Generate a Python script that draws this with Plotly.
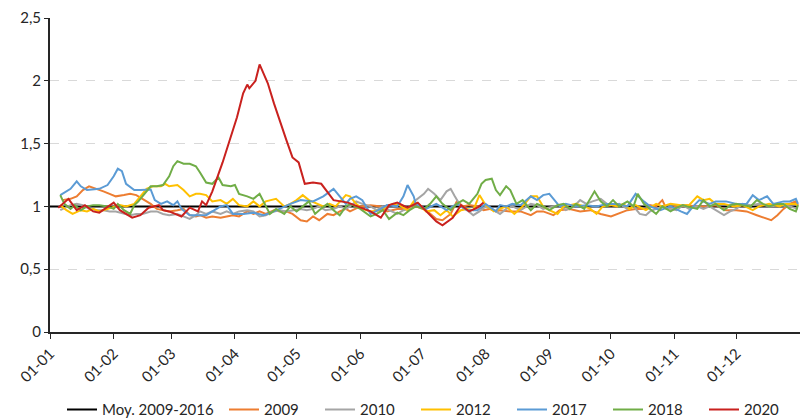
import pandas as pd
import plotly.graph_objects as go

# Day-of-year (0 = 1 Jan) and index values
moy_days = [0, 364]
moy_vals = [1.0, 1.0]

d2009 = [6, 10, 13, 16, 19, 23, 26, 29, 32, 36, 39, 42, 45, 49, 52, 55, 58, 62, 65, 68, 71,
         73, 76, 79, 83, 86, 89, 92, 96, 99, 102, 105, 109, 112, 115, 118, 122, 125, 128, 131, 135, 138, 141, 144,
         146, 151, 156, 161, 164, 169, 174, 178, 183, 188, 191, 195, 198, 201, 204, 208, 211, 214, 217,
         219, 224, 229, 234, 237, 240, 245, 248, 253, 258, 263, 268, 273, 276, 281, 285, 290,
         292, 295, 298, 300, 305, 310, 315, 320, 324, 329, 334, 339, 344, 349, 351, 354, 357, 360, 363, 364]
v2009 = [1.05, 1.06, 1.08, 1.13, 1.16, 1.14, 1.12, 1.10, 1.08, 1.09, 1.10, 1.09, 1.06, 1.02, 0.98, 0.97, 0.96, 0.97, 0.98, 0.93, 0.92,
         0.93, 0.91, 0.92, 0.91, 0.92, 0.93, 0.92, 0.96, 0.94, 0.96, 0.94, 0.97, 0.96, 0.96, 0.94, 0.89, 0.88, 0.92, 0.89, 0.94, 0.93, 0.96, 0.98,
         0.96, 1.00, 1.01, 1.00, 0.96, 0.98, 0.98, 1.00, 0.97, 0.90, 0.89, 0.94, 1.04, 1.00, 1.01, 1.00, 0.97, 0.98, 0.96,
         0.97, 0.96, 0.96, 0.93, 0.96, 0.96, 0.93, 0.97, 0.98, 0.96, 0.97, 0.94, 0.92, 0.94, 0.97, 0.98, 0.98,
         1.01, 1.00, 1.05, 0.98, 1.00, 1.01, 1.00, 1.00, 1.01, 0.97, 0.97, 0.96, 0.93, 0.90, 0.89, 0.93, 0.98, 1.02, 1.04, 1.01]

d2010 = [5, 10, 13, 16, 19, 23, 26, 29, 32, 36, 39, 42, 45, 49, 52, 55, 58, 62, 65, 68, 71,
         73, 76, 79, 83, 86, 89, 92, 96, 99, 102, 105, 109, 112, 115, 118, 122, 125, 128, 131, 134, 138, 141, 144,
         146, 149, 152, 156, 159, 162, 165, 169, 172, 175, 178, 182, 184, 187, 190, 193, 195, 197, 200, 203, 206, 209, 212, 216,
         219, 222, 225, 229, 234, 237, 240, 245, 248, 251, 255, 258, 261, 264, 268, 271, 274, 277, 281, 284, 287, 290,
         292, 295, 298, 302, 305, 308, 311, 315, 318, 321, 324, 328, 331, 334, 337, 341, 345, 350, 355, 360, 364]
v2010 = [0.97, 1.01, 1.02, 1.01, 0.98, 0.97, 0.97, 0.96, 0.96, 0.94, 0.93, 0.94, 0.94, 0.96, 0.96, 0.94, 0.93, 0.94, 0.92, 0.90, 0.93,
         0.96, 0.94, 0.96, 0.94, 0.96, 0.94, 0.96, 0.97, 0.96, 0.92, 0.93, 0.96, 0.97, 0.96, 0.97, 0.98, 0.97, 0.98, 1.00, 0.97, 0.98, 1.00, 0.98,
         1.00, 1.04, 1.02, 1.00, 0.97, 1.00, 0.97, 0.94, 0.97, 0.98, 1.05, 1.10, 1.14, 1.10, 1.05, 1.12, 1.14, 1.08, 1.00, 0.97, 0.93, 0.96, 1.00, 0.97,
         0.94, 0.98, 1.00, 0.97, 1.02, 1.01, 0.98, 1.00, 1.01, 0.97, 1.00, 1.05, 1.02, 1.04, 1.06, 1.02, 1.01, 1.02, 0.98, 1.00, 0.94, 0.93,
         0.96, 0.98, 1.00, 0.98, 0.97, 1.01, 0.98, 1.00, 0.98, 1.00, 0.97, 0.93, 0.96, 0.98, 1.02, 1.01, 1.02, 1.00, 1.01, 1.00, 0.98]

d2012 = [5, 8, 11, 15, 18, 21, 24, 28, 31, 34, 37, 41, 44, 47, 50, 54, 56, 58, 62, 65, 68, 71, 73,
         76, 79, 83, 86, 89, 92, 96, 99, 102, 105, 110, 114, 117, 120, 123, 126, 130, 133, 136, 139, 144,
         146, 149, 152, 156, 161, 164, 167, 170, 174, 177, 180, 183, 187, 190, 193, 196, 200, 203, 206, 209, 212, 216, 219,
         222, 226, 230, 234, 237, 240, 243, 247, 250, 253, 256, 260, 263, 266, 269, 273, 276, 279, 282, 285, 290,
         295, 298, 302, 307, 311, 315, 318, 321, 324, 328, 333, 337, 342, 345, 350, 355, 358, 363, 364]
v2012 = [1.01, 0.97, 0.94, 0.97, 0.96, 0.98, 0.96, 0.98, 1.00, 1.01, 1.00, 1.02, 1.08, 1.14, 1.16, 1.16, 1.18, 1.16, 1.17, 1.13, 1.08, 1.10, 1.10,
         1.09, 1.04, 1.05, 1.02, 1.06, 1.01, 1.00, 1.04, 1.00, 1.04, 1.06, 1.00, 1.02, 1.05, 1.09, 1.05, 1.02, 1.00, 1.02, 1.00, 1.09,
         1.08, 1.02, 0.98, 0.96, 0.97, 1.00, 1.02, 1.01, 0.97, 1.04, 1.01, 0.96, 0.97, 0.93, 0.97, 0.92, 0.97, 0.98, 0.97, 1.09, 1.01, 0.96, 0.98,
         1.00, 0.94, 1.00, 1.08, 1.08, 1.00, 0.97, 0.94, 1.00, 1.01, 1.02, 1.00, 0.98, 0.94, 1.00, 1.01, 1.00, 1.02, 0.98, 1.01, 0.97,
         1.02, 1.00, 1.02, 1.01, 1.01, 1.08, 1.05, 1.06, 1.02, 1.02, 1.00, 1.01, 0.97, 1.00, 1.02, 1.00, 1.02, 1.02, 1.00]

d2017 = [5, 10, 13, 15, 18, 21, 24, 28, 31, 33, 35, 37, 41, 44, 49, 51, 54, 57, 60, 62, 64, 68, 72,
         76, 83, 86, 89, 94, 99, 104, 109, 117, 122, 128, 133, 138, 141, 144,
         146, 149, 152, 156, 161, 164, 169, 172, 174, 177, 178, 183, 188, 193, 198, 203, 208, 212, 217,
         219, 222, 225, 229, 234, 237, 240, 243, 246, 248, 251, 256, 261, 266, 271, 276, 281, 285, 289, 292,
         297, 302, 307, 310, 313, 316, 321, 324, 329, 334, 339, 342, 345, 349, 352, 357, 360, 363, 364]
v2017 = [1.09, 1.14, 1.20, 1.16, 1.13, 1.135, 1.14, 1.17, 1.24, 1.30, 1.28, 1.18, 1.13, 1.13, 1.135, 1.05, 1.02, 1.04, 1.01, 1.04, 0.98, 0.93, 0.93,
         0.93, 1.00, 1.01, 0.94, 0.94, 0.95, 0.93, 0.96, 1.02, 1.05, 1.04, 1.08, 1.14, 1.08, 1.02,
         1.06, 1.08, 1.05, 0.94, 0.98, 1.01, 1.00, 1.08, 1.17, 1.08, 1.02, 0.98, 1.02, 0.97, 1.02, 0.97, 0.97, 1.02, 0.96,
         1.01, 1.00, 1.02, 1.01, 1.08, 1.05, 1.09, 1.10, 1.04, 1.00, 1.02, 1.00, 1.01, 1.00, 1.02, 1.02, 1.00, 1.10, 1.04, 1.00,
         0.97, 1.00, 0.96, 0.94, 1.00, 1.05, 1.02, 1.04, 1.04, 1.02, 1.02, 1.09, 1.05, 1.08, 1.02, 1.04, 1.04, 1.06, 1.02]

d2018 = [5, 7, 10, 12, 15, 18, 21, 24, 28, 31, 33, 36, 39, 41, 43, 45, 49, 52, 55, 58, 60, 62, 65, 68, 71,
         73, 76, 79, 82, 84, 88, 90, 92, 96, 99, 102, 104, 107, 110, 114, 117, 120, 123, 126, 129, 131, 135, 138, 141, 144,
         146, 151, 156, 159, 162, 165, 169, 172, 175, 178, 182, 185, 188, 191, 195, 198, 201, 204, 208, 210, 212, 215, 217,
         219, 222, 224, 227, 230, 234, 237, 240, 243, 247, 250, 253, 256, 260, 263, 265, 268, 271, 274, 277, 281, 284, 286, 289, 292,
         295, 298, 302, 305, 308, 310, 315, 318, 321, 324, 328, 331, 334, 337, 341, 344, 347, 350, 354, 357, 360, 363, 364]
v2018 = [1.09, 1.02, 0.98, 1.01, 0.97, 1.00, 1.01, 1.01, 1.00, 0.98, 1.02, 0.97, 0.94, 1.01, 1.04, 1.08, 1.16, 1.16, 1.17, 1.24, 1.32, 1.36, 1.34, 1.34, 1.32,
         1.27, 1.19, 1.18, 1.23, 1.17, 1.16, 1.17, 1.10, 1.08, 1.06, 1.10, 1.04, 0.94, 0.98, 0.94, 1.00, 0.96, 1.00, 1.04, 0.94, 0.97, 1.02, 0.97, 0.93, 1.00,
         1.02, 0.98, 0.92, 0.94, 0.97, 0.90, 0.95, 0.93, 0.97, 1.00, 0.98, 1.02, 1.08, 1.02, 0.97, 1.02, 1.05, 1.02, 1.10, 1.18, 1.21, 1.22, 1.13,
         1.09, 1.16, 1.13, 1.02, 1.05, 0.97, 1.02, 1.00, 0.97, 1.01, 1.02, 0.98, 1.02, 0.98, 1.06, 1.12, 1.04, 1.00, 1.05, 1.00, 1.04, 1.00, 1.10, 1.02, 0.98,
         0.94, 1.00, 0.96, 0.99, 1.01, 1.00, 0.98, 1.05, 1.00, 1.02, 0.97, 1.01, 1.02, 1.01, 1.00, 1.05, 1.02, 1.00, 1.02, 1.02, 0.98, 0.96, 1.01]

d2020 = [4, 9, 13, 17, 21, 24, 31, 34, 40, 44, 48, 53, 55, 58, 64, 68, 72, 74, 76, 79, 84, 88, 91, 94, 96, 97, 100, 102,
         106, 109, 112, 115, 118, 121, 124, 128, 132, 135, 138, 145, 151, 156, 161, 165, 169, 174, 179, 183, 188, 191,
         196, 200, 204, 208, 211]
v2020 = [0.99, 1.06, 0.97, 1.01, 0.96, 0.95, 1.03, 0.97, 0.91, 0.93, 0.99, 1.01, 0.97, 0.96, 0.92, 0.99, 0.96, 1.04, 1.01, 1.12, 1.35, 1.55, 1.71, 1.90, 1.97, 1.94, 2.00, 2.13,
         1.98, 1.82, 1.67, 1.53, 1.39, 1.35, 1.18, 1.19, 1.18, 1.11, 1.05, 1.03, 0.99, 0.96, 0.91, 1.01, 1.03, 0.99, 1.03, 0.96, 0.88, 0.85,
         0.91, 1.01, 0.96, 0.99, 1.03]

series = [
    ("Moy. 2009-2016", moy_days, moy_vals, "#000000", "legend"),
    ("2009", d2009, v2009, "#ED7D31", "legend2"),
    ("2010", d2010, v2010, "#A5A5A5", "legend2"),
    ("2012", d2012, v2012, "#FFC000", "legend2"),
    ("2017", d2017, v2017, "#5B9BD5", "legend2"),
    ("2018", d2018, v2018, "#70AD47", "legend2"),
    ("2020", d2020, v2020, "#C9211E", "legend2"),
]

start = pd.Timestamp("2021-01-01")

fig = go.Figure()
for name, days, vals, color, leg in series:
    x = start + pd.to_timedelta(days, unit="D")
    fig.add_trace(go.Scatter(x=x, y=vals, mode="lines", name=name, legend=leg,
                             line=dict(color=color, width=2)))

font_family = "Lato, 'Open Sans', sans-serif"
txt = "#262626"
leg_common = dict(orientation="h", yanchor="middle", y=-0.248, xanchor="left",
                  font=dict(size=15, color=txt), itemwidth=30,
                  bgcolor="rgba(0,0,0,0)", borderwidth=0)
fig.update_layout(
    width=800, height=419,
    margin=dict(l=50, r=0, t=18, b=87, autoexpand=False),
    paper_bgcolor="white", plot_bgcolor="white",
    separators=", ",
    font=dict(family=font_family, size=15, color=txt),
    showlegend=True,
    legend=dict(x=(62 - 50) / 750, **leg_common),
    legend2=dict(x=(224 - 50) / 750, entrywidth=51, **leg_common),
    xaxis=dict(
        type="date", automargin=False,
        range=[start, start + pd.Timedelta(days=365)],
        tick0=start, dtick="M1", tickformat="%d-%m",
        tickangle=-45, ticks="outside", ticklen=5, tickcolor=txt,
        showline=True, linecolor=txt, linewidth=2,
        showgrid=False, zeroline=False,
        tickfont=dict(size=15, color=txt),
    ),
    yaxis=dict(
        automargin=False,
        range=[0, 2.5], tickvals=[0, 0.5, 1, 1.5, 2, 2.5],
        ticks="outside", ticklen=4, tickcolor=txt,
        showline=True, linecolor=txt, linewidth=2,
        showgrid=True, gridcolor="#D9D9D9", griddash="dash", gridwidth=1,
        zeroline=False,
        tickfont=dict(size=15, color=txt),
    ),
)

fig.write_html("out.html",
               config={"displayModeBar": False},
               post_script="document.body.style.margin='0';document.body.style.overflow='hidden';")
